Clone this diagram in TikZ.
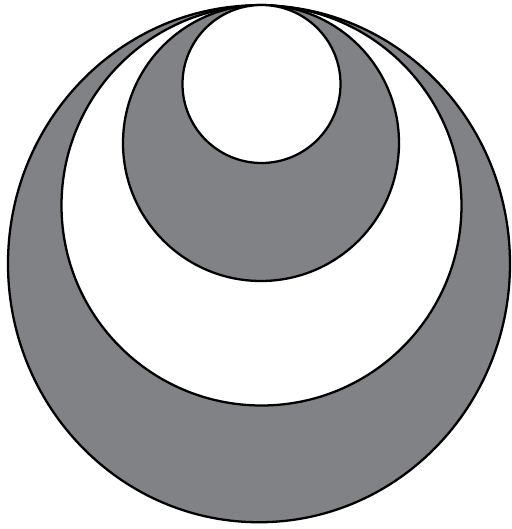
\documentclass[tikz,border=0pt]{standalone}
\definecolor{ringgray}{RGB}{128, 130, 133}
\usepackage{tikz}

\begin{document}
\begin{tikzpicture}[x=0.02cm, y=0.02cm,
    ring/.style={draw=black, line width=1.3pt}]
  \useasboundingbox (0,0) rectangle (512,529);
  % nested circles, all touching at the top
  \draw[ring, fill=ringgray] (259,265.25) ellipse [x radius=251, y radius=258.5];
  \draw[ring, fill=white] (261.5,323.5) circle [radius=200];
  \draw[ring, fill=ringgray] (261,386) circle [radius=138];
  \draw[ring, fill=white] (261.5,445) circle [radius=79];
\end{tikzpicture}
\end{document}
